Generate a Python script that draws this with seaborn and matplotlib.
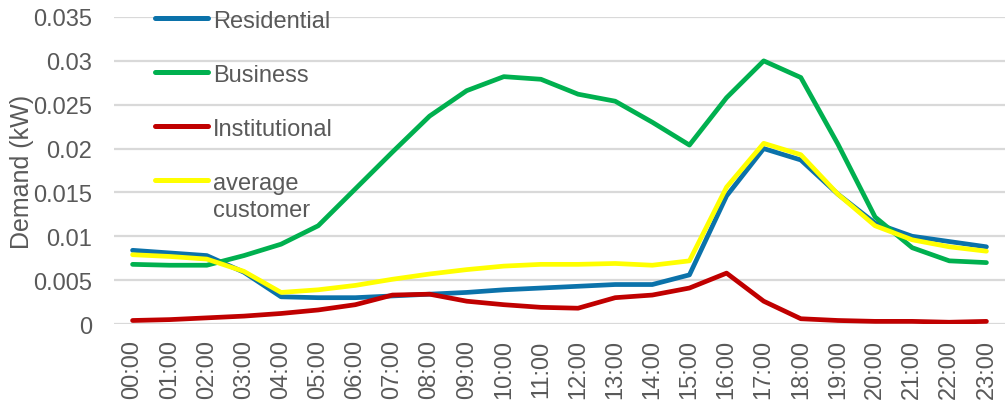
import matplotlib
matplotlib.use("Agg")
import matplotlib.pyplot as plt
import seaborn as sns
import pandas as pd

# Hourly demand profiles by customer class (kW)
hours = [f"{h:02d}:00" for h in range(24)]

residential = [0.0084, 0.0081, 0.0078, 0.0059, 0.0031, 0.0030, 0.0030, 0.0032,
               0.0034, 0.0036, 0.0039, 0.0041, 0.0043, 0.0045, 0.0045, 0.0056,
               0.0146, 0.0200, 0.0187, 0.0148, 0.0115, 0.0100, 0.0094, 0.0088]
business = [0.0068, 0.0067, 0.0067, 0.0078, 0.0091, 0.0112, 0.0154, 0.0196,
            0.0237, 0.0266, 0.0282, 0.0279, 0.0262, 0.0254, 0.0230, 0.0204,
            0.0258, 0.0300, 0.0281, 0.0205, 0.0122, 0.0087, 0.0072, 0.0070]
institutional = [0.0004, 0.0005, 0.0007, 0.0009, 0.0012, 0.0016, 0.0022, 0.0033,
                 0.0034, 0.0026, 0.0022, 0.0019, 0.0018, 0.0030, 0.0033, 0.0041,
                 0.0058, 0.0026, 0.0006, 0.0004, 0.0003, 0.0003, 0.0002, 0.0003]
average_customer = [0.0079, 0.0077, 0.0074, 0.0060, 0.0036, 0.0039, 0.0044, 0.0051,
                    0.0057, 0.0062, 0.0066, 0.0068, 0.0068, 0.0069, 0.0067, 0.0072,
                    0.0156, 0.0206, 0.0193, 0.0148, 0.0112, 0.0096, 0.0088, 0.0083]

series_names = ["Residential", "Business", "Institutional", "average\ncustomer"]
series_values = [residential, business, institutional, average_customer]
colors = ["#0B72AA", "#00B04F", "#C00000", "#FFFF00"]

frames = [pd.DataFrame({"hour": hours, "demand": vals, "series": name})
          for name, vals in zip(series_names, series_values)]
df = pd.concat(frames, ignore_index=True)

sns.set_theme(style="whitegrid")
plt.rcParams["font.family"] = ["Liberation Sans", "DejaVu Sans"]
text_color = "#595959"
fs = 17

fig = plt.figure(figsize=(10.05, 4.02), dpi=100)
ax = fig.add_axes([114 / 1005, 1 - 325 / 402, (1005 - 114) / 1005, (325 - 18) / 402])

sns.lineplot(data=df, x="hour", y="demand", hue="series", hue_order=series_names,
             palette=colors, linewidth=3.4, sort=False, ax=ax, legend=True)
for line in ax.get_lines():
    line.set_solid_joinstyle("round")
    line.set_solid_capstyle("round")

ax.set_xlim(-0.5, 23.5)
ax.set_ylim(0, 0.035)
ax.set_yticks([0, 0.005, 0.01, 0.015, 0.02, 0.025, 0.03, 0.035])
ax.set_yticklabels(["0", "0.005", "0.01", "0.015", "0.02", "0.025", "0.03", "0.035"])
ax.set_xticks(range(len(hours)))
ax.set_xticklabels(hours, rotation=90)
ax.tick_params(axis="y", length=0, pad=16, labelsize=fs, labelcolor=text_color)
ax.tick_params(axis="x", length=0, pad=11, labelsize=fs, labelcolor=text_color)

ax.grid(axis="y", color="#D9D9D9", linewidth=1.6)
ax.grid(axis="x", visible=False)
for s in ax.spines.values():
    s.set_visible(False)

ax.set_xlabel("")
ax.set_ylabel("Demand (kW)", fontsize=18, color=text_color)
ax.yaxis.set_label_coords(-80 / 891, 0.5)

handles, labels = ax.get_legend_handles_labels()
leg = ax.legend(handles, labels, loc="upper left",
                bbox_to_anchor=(155 / 1005, 1 - 11 / 402), bbox_transform=fig.transFigure,
                frameon=False, fontsize=fs, labelcolor=text_color,
                handlelength=2.25, handletextpad=0.2, labelspacing=1.35, borderpad=0,
                borderaxespad=0)
for h in leg.legend_handles:
    h.set_linewidth(3.6)
    h.set_solid_capstyle("round")
for t in leg.get_texts():
    t.set_linespacing(1.3)
# align each legend line with the first line of its label
for col in leg._legend_handle_box.get_children():
    for item in col.get_children():
        item.align = "top"

fig.savefig("out.png", dpi=100)
